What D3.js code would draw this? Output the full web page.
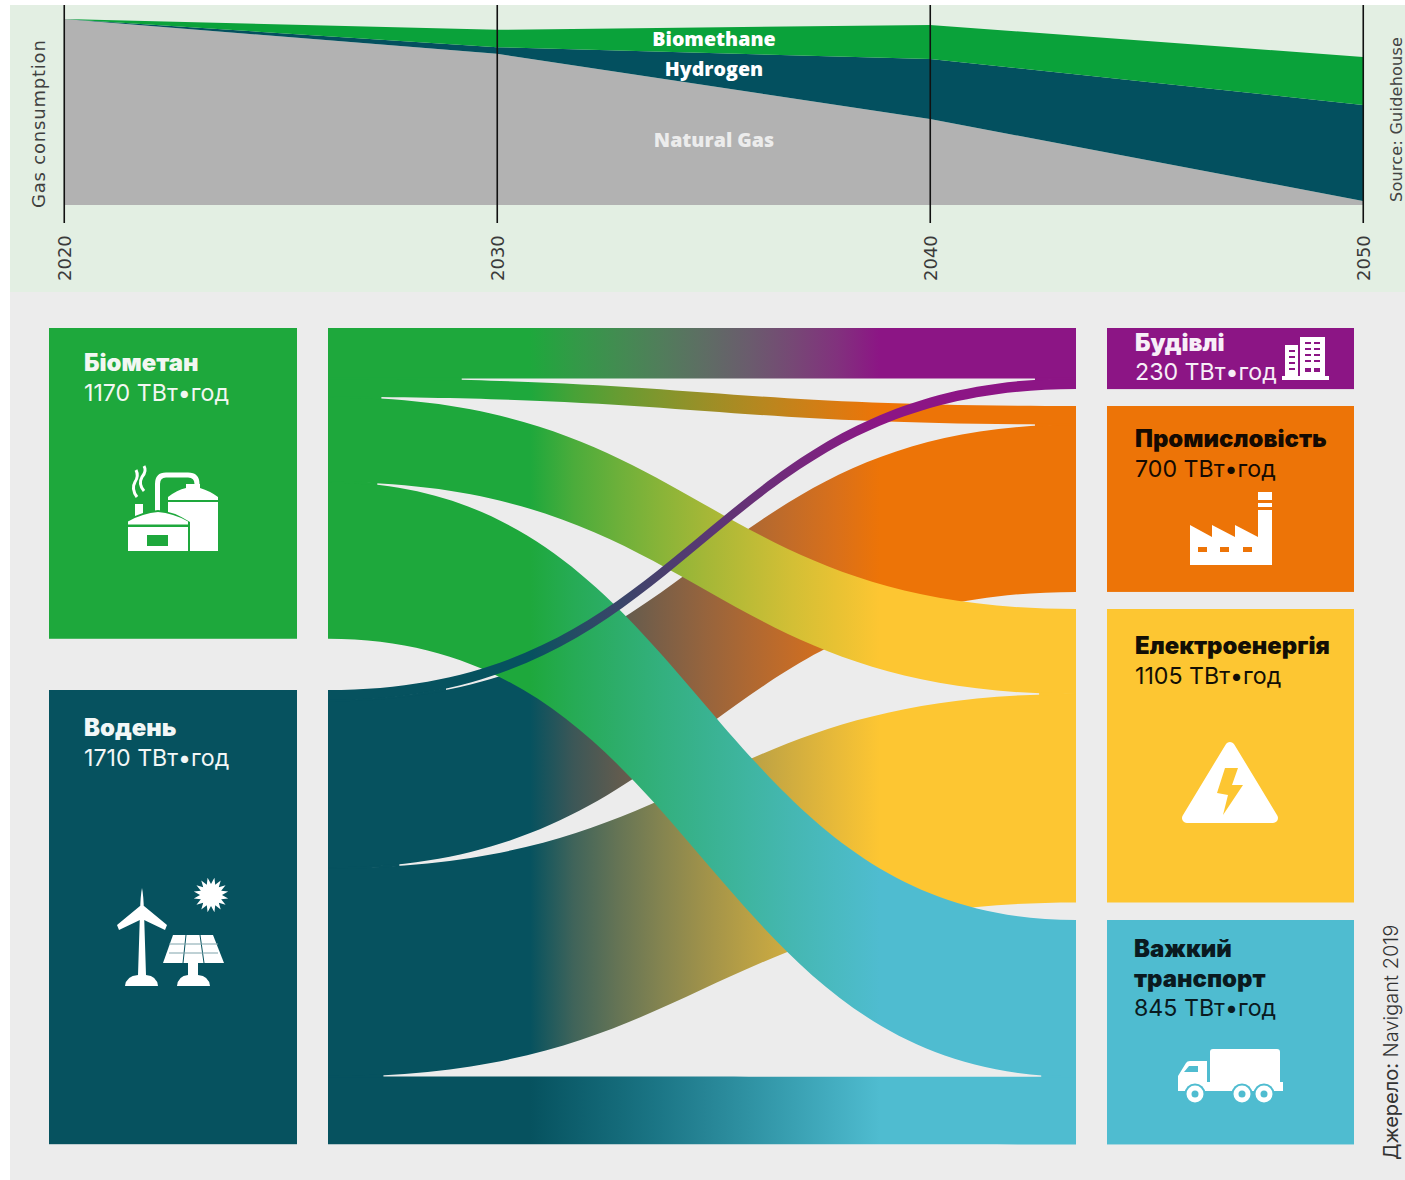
<!DOCTYPE html>
<html lang="uk">
<head>
<meta charset="utf-8">
<title>Gas consumption and renewable gas flows</title>
<script src="https://cdn.jsdelivr.net/npm/d3@7/dist/d3.min.js"></script>
<style>
  html, body { margin: 0; padding: 0; background: #fff; }
  svg { display: block; }
  text { font-family: Inter, "Noto Sans", sans-serif; }
</style>
</head>
<body>
<svg id="chart" width="1405" height="1180"></svg>
<script>
// Gas mix outlook, stacked shares per year
const years = [2020, 2030, 2040, 2050];
const naturalGas = [100, 81.3, 46.2, 2.2];
const hydrogen = [0, 3.5, 32.3, 51.6];
const biomethane = [0, 9.4, 18.3, 25.8];
const mixKeys = ["naturalGas", "hydrogen", "biomethane"];
const mixLabels = ["Natural Gas", "Hydrogen", "Biomethane"];

// Supply and demand, TWh per year
const supplyNames = ["Біометан", "Водень"];
const supplyTotals = [1170, 1710];
const demandNames = [["Будівлі"], ["Промисловість"], ["Електроенергія"], ["Важкий", "транспорт"]];
const demandTotals = [230, 700, 1105, 845];
const biomethaneFlows = [190, 70, 320, 590];
const hydrogenFlows = [40, 630, 785, 255];
const unit = "ТВт•год";

const colors = {
  panelTop: "#e3efe3", panel: "#ececec",
  gas: "#b2b2b2", hyd: "#03505f", bio: "#0aa23a",
  supply: ["#1ea83c", "#06525f"],
  demand: ["#8c1585", "#ed7407", "#fdc632", "#4fbcd0"]
};

const svg = d3.select("#chart");
const defs = svg.append("defs");

svg.append("rect").attr("x", 10).attr("y", 5).attr("width", 1395).attr("height", 287).attr("fill", colors.panelTop);
svg.append("rect").attr("x", 10).attr("y", 292).attr("width", 1395).attr("height", 888).attr("fill", colors.panel);

/* ---------- stacked area ---------- */
const xYear = d3.scaleLinear().domain([2020, 2050]).range([64, 1363]);
const yShare = d3.scaleLinear().domain([0, 100]).range([205, 19]);

const mixRows = years.map((year, i) => ({
  year, naturalGas: naturalGas[i], hydrogen: hydrogen[i], biomethane: biomethane[i]
}));
const stacked = d3.stack().keys(mixKeys)(mixRows);
const area = d3.area()
  .x(d => xYear(d.data.year))
  .y0(d => yShare(d[0]))
  .y1(d => yShare(d[1]));

svg.append("g").selectAll("path").data(stacked).join("path")
  .attr("d", area)
  .attr("fill", (d, i) => [colors.gas, colors.hyd, colors.bio][i]);

const yearAxis = d3.axisBottom(xYear).tickValues(years).tickFormat(d3.format("d"))
  .tickSize(-218).tickPadding(0);
const axisG = svg.append("g").attr("transform", "translate(-0.25,223)").call(yearAxis);
axisG.select(".domain").remove();
axisG.selectAll("line").attr("stroke", "#111").attr("stroke-width", 1.6);
axisG.selectAll("text")
  .attr("transform", "translate(0,58) rotate(-90)")
  .attr("y", 0).attr("dy", "0.35em").attr("text-anchor", "start")
  .style("font-family", "'DejaVu Sans', sans-serif")
  .style("font-size", "18px").attr("fill", "#3a3a3a");

const mixLabelY = [140, 69, 39];
svg.append("g").selectAll("text").data(mixLabels).join("text")
  .attr("x", 714).attr("y", (d, i) => mixLabelY[i]).attr("dy", "0.35em")
  .attr("text-anchor", "middle").attr("fill", (d, i) => i === 0 ? "#ececec" : "#fff")
  .style("font-family", "'Open Sans', sans-serif").style("font-weight", 800).style("font-size", "19.6px")
  .text(d => d);

function sideText(x, y, str, size, fill, spacing) {
  svg.append("text").attr("transform", `translate(${x},${y}) rotate(-90)`)
    .attr("fill", fill).style("font-family", "'DejaVu Sans', sans-serif")
    .style("font-size", size + "px").style("letter-spacing", spacing + "px").text(str);
}
sideText(45, 208, "Gas consumption", 18, "#3f3f3f", 0.8);
sideText(1402, 202, "Source: Guidehouse", 16, "#444", 0.25);

/* ---------- flow diagram ---------- */
const flowScale = d3.scaleLinear().domain([0, 1710]).range([0, 454.2]);
const supplyTops = [328, 690];
const demandTops = [328, 406, 609, 920];
const supplyX = [49, 297], demandX = [1107, 1354], bandX = [328, 1076];

const flows = [];
const supplyCursor = supplyTops.slice();
const demandCursor = demandTops.slice();
[biomethaneFlows, hydrogenFlows].forEach((row, s) => {
  row.forEach((value, t) => {
    const h = flowScale(value);
    flows.push({ s, t, value, y0: supplyCursor[s], y1: demandCursor[t], h });
    supplyCursor[s] += h;
    demandCursor[t] += h;
  });
});

function ribbon(f) {
  const [xa, xb] = bandX, xm = (xa + xb) / 2;
  const p = d3.path();
  p.moveTo(xa, f.y0);
  p.bezierCurveTo(xm, f.y0, xm, f.y1, xb, f.y1);
  p.lineTo(xb, f.y1 + f.h);
  p.bezierCurveTo(xm, f.y1 + f.h, xm, f.y0 + f.h, xa, f.y0 + f.h);
  p.closePath();
  return p.toString();
}

// Point on a ribbon edge; offset 0 is the upper edge, offset h the lower one
function edgePoint(f, offset, t) {
  const [xa, xb] = bandX;
  const u = 1 - t;
  const ease = 3 * u * t * t + t * t * t;
  const xFrac = 1.5 * u * u * t + 1.5 * u * t * t + t * t * t;
  return [xa + (xb - xa) * xFrac, f.y0 + offset + (f.y1 - f.y0) * ease];
}

// Neighbouring ribbons meet without a hairline: the sliver is closed until the gap opens.
// The patch reaches a pixel into both ribbons so no antialiased seam stays visible.
function seam(upper, lower, nearSupply, minGap) {
  const gapAt = t => Math.abs(edgePoint(lower, 0, t)[1] - edgePoint(upper, upper.h, t)[1]);
  const ts = d3.range(0, 1.0001, 0.002)
    .filter(t => gapAt(t) < minGap && (nearSupply ? t < 0.5 : t > 0.5));
  const a = ts.map(t => { const p = edgePoint(upper, upper.h, t); return [p[0], p[1] - 0.8]; });
  const b = ts.map(t => { const p = edgePoint(lower, 0, t); return [p[0], p[1] + 0.8]; }).reverse();
  return d3.line()(a.concat(b)) + "Z";
}

flows.forEach(f => {
  const gamma = f.s === 1 && f.t === 3 ? 0.75 : 1.5;
  const mix = d3.interpolateRgb.gamma(gamma)(colors.supply[f.s], colors.demand[f.t]);
  const g = defs.append("linearGradient").attr("id", `flow-${f.s}-${f.t}`)
    .attr("gradientUnits", "userSpaceOnUse")
    .attr("x1", 530).attr("x2", 880).attr("y1", 0).attr("y2", 0);
  d3.range(0, 1.0001, 0.125).forEach(k =>
    g.append("stop").attr("offset", k).attr("stop-color", mix(k)));
});

// Painted back to front so the crossing ribbons overlap as intended
const paintOrder = [[1, 1], [1, 2], [1, 3], [0, 0], [0, 1], [0, 2], [0, 3], [1, 0]];
const flowOf = (s, t) => flows.find(f => f.s === s && f.t === t);
svg.append("g").selectAll("path")
  .data(paintOrder.map(([s, t]) => flowOf(s, t)))
  .join("path")
  .attr("d", ribbon)
  .attr("fill", f => `url(#flow-${f.s}-${f.t})`);

const seamG = svg.append("g");
[0, 1].forEach(s => d3.range(3).forEach(t =>
  seamG.append("path").attr("d", seam(flowOf(s, t), flowOf(s, t + 1), true, 1.4)).attr("fill", colors.supply[s])));
d3.range(4).forEach(t =>
  seamG.append("path").attr("d", seam(flowOf(0, t), flowOf(1, t), false, 1.4)).attr("fill", colors.demand[t]));

svg.append("g").selectAll("rect").data(supplyTotals).join("rect")
  .attr("x", supplyX[0]).attr("width", supplyX[1] - supplyX[0])
  .attr("y", (d, i) => supplyTops[i]).attr("height", d => flowScale(d))
  .attr("fill", (d, i) => colors.supply[i]);
svg.append("g").selectAll("rect").data(demandTotals).join("rect")
  .attr("x", demandX[0]).attr("width", demandX[1] - demandX[0])
  .attr("y", (d, i) => demandTops[i]).attr("height", d => flowScale(d))
  .attr("fill", (d, i) => colors.demand[i]);

function block(x, baselines, heads, valueStr, fill) {
  heads.forEach((h, i) => svg.append("text").attr("x", x).attr("y", baselines[i])
    .attr("fill", fill).style("font-weight", 900).style("font-size", "23.9px").text(h));
  svg.append("text").attr("x", x).attr("y", baselines[heads.length])
    .attr("fill", fill).style("font-weight", 400).style("font-size", "23.2px").text(valueStr);
}
const valueLabel = v => `${v} ${unit}`;
block(84, [371, 401], [supplyNames[0]], valueLabel(supplyTotals[0]), "#f2f7f2");
block(84, [736, 766], [supplyNames[1]], valueLabel(supplyTotals[1]), "#f2f7f7");
block(1135, [351, 380], demandNames[0], valueLabel(demandTotals[0]), "#f7eef7");
block(1135, [447, 477], demandNames[1], valueLabel(demandTotals[1]), "#140a02");
block(1135, [654, 684], demandNames[2], valueLabel(demandTotals[2]), "#120f05");
block(1134, [957, 987, 1016], demandNames[3], valueLabel(demandTotals[3]), "#0a1a20");

const src = svg.append("text").attr("transform", "translate(1398,1160) rotate(-90)")
  .attr("fill", "#333").style("font-size", "20px");
src.append("tspan").style("font-weight", 400).text("Джерело: ");
src.append("tspan").style("font-weight", 300).text("Navigant 2019");

/* ---------- pictograms ---------- */
const icons = svg.append("g").attr("fill", "#fff");
const shape = (d, fill) => icons.append("path").attr("d", d).attr("fill", fill || "#fff");

// Biogas plant
shape("M168 551V502H218V551Z M168 500L168 497Q177 490 186 488V484H200V488Q210 491 218 497V500Z");
icons.append("path").attr("d", "M157.5 512V484Q157.5 475 166 475H188Q197 475 197 484")
  .attr("fill", "none").attr("stroke", "#fff").attr("stroke-width", 5);
icons.append("path").attr("d", "M126 553V522Q143 511 158 510Q173 511 190 522V553Z")
  .attr("fill", colors.supply[0]);
shape("M128 551V527H188V551Z M128 524.5V521.5Q143 513 158 512Q173 513 188 521.5V524.5Z M135 516V504H143V513Z");
shape("M147 535H168V546H147Z", colors.supply[0]);
icons.append("path").attr("d", "M137 497Q131 489 135 482Q139 476 136 470M144 491Q138 484 142 477Q147 471 144 466")
  .attr("fill", "none").attr("stroke", "#fff").attr("stroke-width", 3);

// Wind turbine and solar panel
shape("M138 975L140 912Q140.5 895 142 888Q143.5 895 144 912L146 975Z");
shape("M140 906H144L167 925L165 930L142 919L119 930L117 925Z");
shape("M125 986Q126 976 138 975H146Q157 976 158 986Z");
shape("M177 986Q178 976 188 975V963H198V975Q209 976 210 986Z");
shape("M173 935H213L224 963H163Z");
[[186, 183], [200, 204]].forEach(([a, b]) => icons.append("line")
  .attr("x1", a).attr("y1", 935).attr("x2", b).attr("y2", 963).attr("stroke", colors.supply[1]).attr("stroke-width", 1));
[944, 953].forEach(y => icons.append("line")
  .attr("x1", 169).attr("y1", y).attr("x2", 218).attr("y2", y).attr("stroke", "#7fa3ab").attr("stroke-width", 1));
const sunRay = d3.lineRadial().curve(d3.curveLinearClosed)
  .angle((d, i) => i * Math.PI / 16).radius((d, i) => i % 2 ? 17.5 : 11);
icons.append("path").attr("transform", "translate(211,895)").attr("d", sunRay(d3.range(32)));

// Office building
shape("M1282 376H1329V380H1282Z M1300 337H1325V376H1300Z M1285 345H1298V376H1285Z");
[342, 348, 354, 360, 368].forEach(y => [1305, 1314].forEach(x =>
  shape(`M${x} ${y}h6v${y === 368 ? 4 : 2}h-6z`, colors.demand[0])));
[350, 356, 362, 368].forEach(y => shape(`M1289 ${y}h6v2h-6z`, colors.demand[0]));

// Factory
shape("M1190 565V525L1212 537V525L1235 537V525L1258 537V515H1272V565Z");
shape("M1258 492H1272V500H1258Z M1258 503H1272V507H1258Z M1258 510H1272V516H1258Z");
[1198, 1220, 1243].forEach(x => shape(`M${x} 547h9v5h-9z`, colors.demand[1]));

// High-voltage warning sign
icons.append("path").attr("d", "M1230 747L1187 818H1273Z").attr("stroke", "#fff")
  .attr("stroke-width", 10).attr("stroke-linejoin", "round");
shape("M1225 768H1238L1232 785H1243L1223 815L1228 795L1217 793Z", colors.demand[2]);

// Lorry
shape("M1210 1052Q1210 1049 1213 1049H1277Q1280 1049 1280 1052V1082H1283V1091H1207V1082H1210Z");
shape("M1178 1091V1076L1186 1063Q1187 1061 1190 1061H1207V1091Z");
shape("M1184 1072L1189 1066H1198V1072Z", colors.demand[3]);
[1195, 1242, 1264].forEach(cx => {
  icons.append("circle").attr("cx", cx).attr("cy", 1094).attr("r", 10.5).attr("fill", colors.demand[3]);
  icons.append("circle").attr("cx", cx).attr("cy", 1094).attr("r", 8.5).attr("fill", "#fff");
  icons.append("circle").attr("cx", cx).attr("cy", 1094).attr("r", 3.5).attr("fill", colors.demand[3]);
});
</script>
</body>
</html>
